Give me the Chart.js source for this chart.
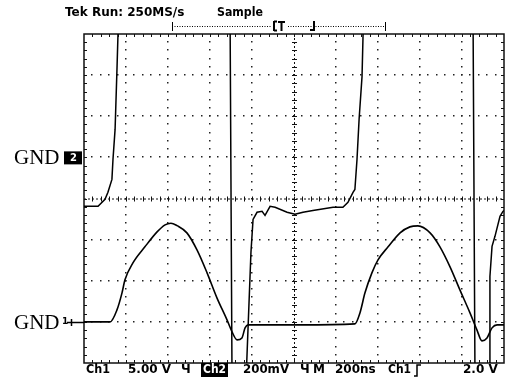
<!DOCTYPE html>
<html>
<head>
<meta charset="utf-8">
<script src="https://cdn.jsdelivr.net/npm/chart.js@4/dist/chart.umd.min.js"></script>
<style>
  html, body { margin: 0; padding: 0; background: #fff; }
  #wrap { width: 514px; height: 379px; }
</style>
</head>
<body>
<div id="wrap"><canvas id="scope" width="514" height="379"></canvas></div>
<script>
// horizontal: 200 ns/div, 10 divisions
const timeTicks = [0, 200, 400, 600, 800, 1000, 1200, 1400, 1600, 1800, 2000];
// Ch1: 5.00 V/div, ground 3 div below centre
const ch1Ticks = [-5, 0, 5, 10, 15, 20, 25, 30, 35];
// Ch2: 200 mV/div, ground 1 div above centre
const ch2Ticks = [-1.0, -0.8, -0.6, -0.4, -0.2, 0, 0.2, 0.4, 0.6];

// Ch1 trace (lower one), time in ns, volts
const ch1Time = [0, 124, 157, 181, 195, 233, 290, 348, 386, 414, 443, 490, 538, 586, 633, 681, 705, 729, 752, 767, 781,
  1029, 1290, 1314, 1338, 1371, 1400, 1448, 1505, 1552, 1590, 1648, 1695, 1743, 1790, 1838, 1871, 1895, 1919, 1943, 1967, 2000];
const ch1Volts = [0, 0, 1.46, 3.53, 5.11, 7.17, 9.12, 10.94, 11.8, 12.0, 11.7, 10.82, 8.75, 5.96, 2.92, 0.24, -1.22, -2.19, -1.95, -0.73, -0.36,
  -0.36, -0.24, 1.09, 3.53, 5.96, 7.54, 9.12, 10.82, 11.55, 11.67, 10.82, 9.12, 6.69, 3.89, 1.09, -0.97, -2.31, -1.95, -0.73, -0.36, -0.36];

// Ch2 trace (upper one), time in ns, volts (runs off screen at top and bottom)
const ch2Time = [0, 67, 100, 114, 133, 138, 148, 157, 162, 167, 695, 705, 771, 795, 805, 824, 848, 862, 886, 910, 967, 1005, 1043, 1090,
  1186, 1233, 1257, 1281, 1290, 1300, 1310, 1324, 1329, 1335, 1852, 1862, 1929, 1933, 1943, 1957, 1981, 1995, 2000];
const ch2Volts = [-0.238, -0.238, -0.204, -0.170, -0.107, -0.010, 0.136, 0.428, 0.603, 0.8, 0.8, -1.1, -1.1, -0.462, -0.302, -0.267,
  -0.262, -0.282, -0.238, -0.243, -0.267, -0.277, -0.267, -0.258, -0.243, -0.243, -0.219, -0.170, -0.156, -0.010, 0.185, 0.394, 0.603, 0.8,
  0.8, -1.1, -1.1, -0.579, -0.433, -0.384, -0.287, -0.263, -0.258];

const headerText = ['Tek Run: 250MS/s', 'Sample'];
const footerText = ['Ch1', '5.00 V', 'Ch2', '200mV', 'M', '200ns', 'Ch1', '2.0 V'];

function pts(t, v) {
  return t.map((x, i) => ({ x: x, y: v[i] }));
}

function dot(ctx, x, y) {
  ctx.fillRect(Math.round(x) - 1, Math.round(y) - 1, 1.5, 1.5);
}

// graticule: border, minor ticks, dotted division lines, dashed centre lines
const graticule = {
  id: 'graticule',
  beforeDatasetsDraw(chart) {
    const ctx = chart.ctx;
    const a = chart.chartArea;
    const xs = chart.scales.x, ys = chart.scales.y1;
    const xp = timeTicks.map(t => xs.getPixelForValue(t));
    const yp = ch1Ticks.map(v => ys.getPixelForValue(v)).reverse();
    const sx = (xp[1] - xp[0]) / 5, sy = (yp[1] - yp[0]) / 5;
    ctx.save();
    ctx.fillStyle = '#222';
    for (let i = 1; i < 10; i++) {
      if (i === 5) continue;
      for (let j = 1; j < 40; j++) dot(ctx, xp[i], a.top + j * sy);
    }
    for (let i = 1; i < 8; i++) {
      if (i === 4) continue;
      for (let j = 1; j < 50; j++) dot(ctx, a.left + j * sx, yp[i]);
    }
    ctx.strokeStyle = '#111';
    ctx.lineWidth = 1;
    ctx.setLineDash([2, 2]);
    ctx.beginPath();
    ctx.moveTo(xp[5] + 0.5, a.top); ctx.lineTo(xp[5] + 0.5, a.bottom);
    ctx.moveTo(a.left, yp[4] + 0.5); ctx.lineTo(a.right, yp[4] + 0.5);
    ctx.stroke();
    ctx.setLineDash([]);
    ctx.beginPath();
    for (let j = 1; j < 50; j++) {
      const x = Math.round(a.left + j * sx) + 0.5;
      ctx.moveTo(x, yp[4] - 2); ctx.lineTo(x, yp[4] + 3);
      ctx.moveTo(x, a.top); ctx.lineTo(x, a.top + 3);
      ctx.moveTo(x, a.bottom); ctx.lineTo(x, a.bottom - 3);
    }
    for (let j = 1; j < 40; j++) {
      const y = Math.round(a.top + j * sy) + 0.5;
      ctx.moveTo(xp[5] - 2, y); ctx.lineTo(xp[5] + 3, y);
      ctx.moveTo(a.left, y); ctx.lineTo(a.left + 3, y);
      ctx.moveTo(a.right, y); ctx.lineTo(a.right - 3, y);
    }
    ctx.stroke();
    ctx.lineWidth = 1.5;
    ctx.strokeRect(a.left, a.top, a.right - a.left, a.bottom - a.top);
    ctx.restore();
  }
};

// readouts around the screen
const readouts = {
  id: 'readouts',
  afterDraw(chart) {
    const ctx = chart.ctx;
    const a = chart.chartArea;
    const y1 = chart.scales.y1, y2 = chart.scales.y2;
    ctx.save();
    ctx.fillStyle = '#000';
    ctx.textBaseline = 'middle';
    ctx.font = 'bold 12px "DejaVu Sans"';
    ctx.fillText(headerText[0], 65, 13, 123);
    ctx.fillText(headerText[1], 217, 13, 46);

    // trigger position bar
    ctx.strokeStyle = '#000';
    ctx.lineWidth = 1;
    ctx.setLineDash([1, 1.5]);
    ctx.beginPath();
    ctx.moveTo(172, 26.5); ctx.lineTo(272, 26.5);
    ctx.moveTo(288, 26.5); ctx.lineTo(385, 26.5);
    ctx.stroke();
    ctx.setLineDash([]);
    ctx.beginPath();
    ctx.moveTo(172.5, 22); ctx.lineTo(172.5, 31);
    ctx.moveTo(385.5, 22); ctx.lineTo(385.5, 31);
    ctx.stroke();
    ctx.lineWidth = 2;
    ctx.beginPath();
    ctx.moveTo(274, 21); ctx.lineTo(274, 31);
    ctx.moveTo(274, 21.5); ctx.lineTo(277, 21.5);
    ctx.moveTo(274, 30.5); ctx.lineTo(277, 30.5);
    ctx.moveTo(278, 22); ctx.lineTo(285, 22);
    ctx.moveTo(281.5, 22); ctx.lineTo(281.5, 31);
    ctx.moveTo(314, 21); ctx.lineTo(314, 31);
    ctx.moveTo(310, 30); ctx.lineTo(314, 30);
    ctx.stroke();

    // footer
    const fy = 370;
    ctx.fillText(footerText[0], 86, fy, 24);
    ctx.fillText(footerText[1], 128, fy, 43);
    ctx.fillText('\u0427', 181, fy);
    ctx.fillRect(201, 363, 27, 14);
    ctx.fillStyle = '#fff';
    ctx.fillText(footerText[2], 203, fy, 23);
    ctx.fillStyle = '#000';
    ctx.fillText(footerText[3], 243, fy, 46);
    ctx.fillText('\u0427', 300, fy);
    ctx.fillText(footerText[4], 313, fy, 12);
    ctx.fillText(footerText[5], 335, fy, 41);
    ctx.fillText(footerText[6], 388, fy, 23);
    ctx.lineWidth = 1.5;
    ctx.beginPath();
    ctx.moveTo(414, 376); ctx.lineTo(417, 376); ctx.lineTo(417, 365); ctx.lineTo(421, 365);
    ctx.stroke();
    ctx.fillText(footerText[7], 463, fy, 40);

    // ground markers
    const g2 = y2.getPixelForValue(0), g1 = y1.getPixelForValue(0);
    ctx.font = '21px "Liberation Serif"';
    ctx.textBaseline = 'alphabetic';
    ctx.fillText('GND', 14, g2 + 7, 48);
    ctx.fillText('GND', 14, g1 + 7, 48);
    ctx.fillRect(64, g2 - 6, 18, 13);
    ctx.fillStyle = '#fff';
    ctx.font = 'bold 10px "DejaVu Sans"';
    ctx.fillText('2', 70, g2 + 4);
    ctx.fillStyle = '#000';
    ctx.font = 'bold 9px "DejaVu Sans"';
    ctx.fillText('1', 62, g1 + 2);
    ctx.lineWidth = 1.5;
    ctx.beginPath();
    ctx.moveTo(67, g1 + 0.5); ctx.lineTo(a.left, g1 + 0.5);
    ctx.moveTo(71.5, g1 - 3); ctx.lineTo(71.5, g1 + 4);
    ctx.stroke();
    ctx.restore();
  }
};

const ctx = document.getElementById('scope').getContext('2d');

const scopeChart = new Chart(ctx, {
  type: 'line',
  data: {
    datasets: [{
      label: 'Ch1',
      data: pts(ch1Time, ch1Volts),
      yAxisID: 'y1',
      borderColor: '#000',
      borderWidth: 1.6,
      pointRadius: 0,
      cubicInterpolationMode: 'monotone',
      clip: 0
    }, {
      label: 'Ch2',
      data: pts(ch2Time, ch2Volts),
      yAxisID: 'y2',
      borderColor: '#000',
      borderWidth: 1.5,
      pointRadius: 0,
      tension: 0,
      clip: 0
    }]
  },
  options: {
    responsive: false,
    animation: false,
    layout: { padding: { left: 84, right: 10, top: 34, bottom: 16 } },
    scales: {
      x: { type: 'linear', min: 0, max: 2000, display: false },
      y1: { type: 'linear', min: -5, max: 35, display: false },
      y2: { type: 'linear', min: -1.0, max: 0.6, display: false }
    },
    plugins: {
      legend: { display: false },
      tooltip: { enabled: false }
    }
  },
  plugins: [graticule, readouts]
});
</script>
</body>
</html>
